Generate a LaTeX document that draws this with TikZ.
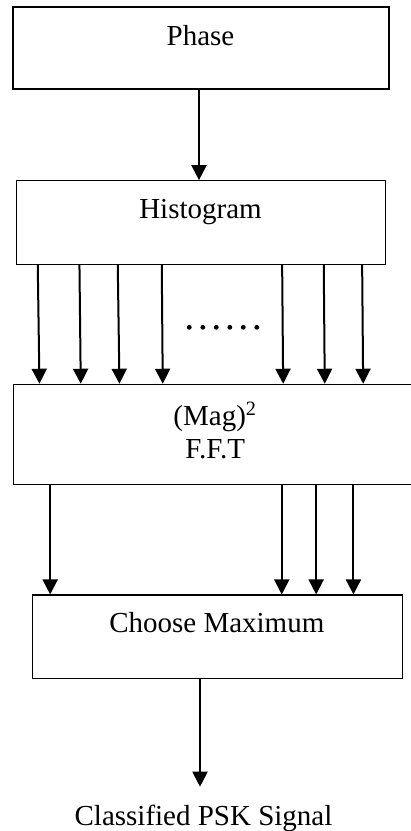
\documentclass[tikz,border=0pt]{standalone}
\usepackage{fontspec}
\setmainfont{Liberation Serif}
\usetikzlibrary{arrows.meta}
\begin{document}
\begin{tikzpicture}[x=1pt,y=-1pt,
  box/.style={draw, line width=1.1pt, inner sep=0pt, minimum width=#1},
  lbl/.style={anchor=base, inner sep=0pt, font=\fontsize{29}{34}\selectfont},
  arr/.style={line width=2pt, -{Triangle[length=15pt,width=15pt]}}]
\useasboundingbox (0,0) rectangle (411,831);
\clip (0,0) rectangle (411,831);

% blocks
\node[box=376pt, minimum height=82pt] (phase) at (201,48) {};
\node[box=369pt, minimum height=83.6pt] (hist) at (201.2,222.5) {};
\node[box=420pt, minimum height=100.4pt] (fft) at (223.3,434.5) {};
\node[box=369.6pt, minimum height=83.3pt] (choose) at (217.5,636.65) {};

% block texts
\node[lbl] (phaseT) at (200.5,45) {Phase};
\node[lbl] (histT) at (200.5,218.3) {Histogram};
\node[lbl] (magT) at (215,425) {(Mag)\textsuperscript{2}};
\node[lbl] (fftT) at (215.3,458.3) {F.F.T};
\node[lbl] (chooseT) at (216.8,632.7) {Choose Maximum};
\node[lbl] (out) at (203.5,825) {Classified PSK Signal};
\coordinate (outTip) at (200,786.7);

% phase -> histogram
\draw[arr] ([xshift=-2pt]phase.south) -- ([xshift=-2.2pt]hist.north);

% histogram -> FFT bins
\foreach \a/\b in {21.6/26.7, 63.3/68, 101.6/106.7, 145.6/150,
                   266/270.4, 307.6/312, 346/350.4}
  \draw[arr] ([xshift=\a pt]hist.south west) -- ([xshift=\b pt]fft.north west);

% omitted bins
\foreach \k in {0,...,5}
  \fill (189.3+13.5*\k,327.3) circle (2.4);

% FFT -> choose maximum
\foreach \a/\b in {37.4/18, 269/249.6, 303.4/284, 340.7/321.3}
  \draw[arr] ([xshift=\a pt]fft.south west) -- ([xshift=\b pt]choose.north west);

% result
\draw[arr] ([xshift=-17.5pt]choose.south) -- (outTip);
\end{tikzpicture}
\end{document}
